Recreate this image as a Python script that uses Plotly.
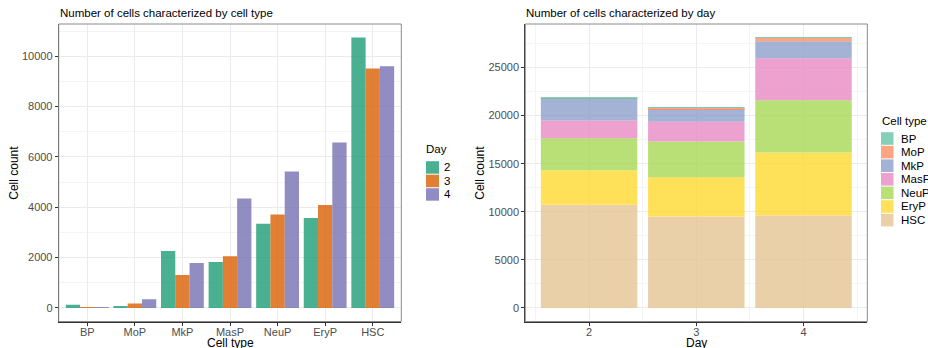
import plotly.graph_objects as go

# ---------------- data ----------------
cell_types = ["BP", "MoP", "MkP", "MasP", "NeuP", "EryP", "HSC"]
days = [2, 3, 4]
day2_counts = [130, 70, 2262, 1825, 3346, 3571, 10741]
day3_counts = [20, 180, 1310, 2050, 3717, 4087, 9511]
day4_counts = [30, 350, 1786, 4352, 5423, 6574, 9603]
day_colors = ["#1B9E77", "#D95F02", "#7570B3"]            # Dark2
type_colors = ["#66C2A5", "#FC8D62", "#8DA0CB", "#E78AC3",
               "#A6D854", "#FFD92F", "#E5C494"]           # Set2
left_title = "Number of cells characterized by cell type"
right_title = "Number of cells characterized by day"

W, H = 928, 348
FONT = "Liberation Sans, Arial, sans-serif"
ALPHA = 0.8


def px(x):
    return x / W


def py(y):
    return 1 - y / H


# panel geometry (pixels)
L0, L1 = 58.7, 401.3
R0, R1 = 525.3, 867.3
T, B = 24.0, 321.5

fig = go.Figure()

counts_by_day = [day2_counts, day3_counts, day4_counts]

# left panel: dodged bars
for i, (d, vals) in enumerate(zip(days, counts_by_day)):
    fig.add_trace(go.Bar(
        x=cell_types, y=vals, name=str(d), xaxis="x", yaxis="y",
        width=0.3, offset=-0.45 + 0.3 * i,
        marker=dict(color=day_colors[i], opacity=ALPHA, line=dict(width=0)),
        showlegend=False,
    ))

# right panel: stacked bars (HSC at bottom)
base = [0, 0, 0]
for j in reversed(range(len(cell_types))):
    vals = [counts_by_day[k][j] for k in range(len(days))]
    fig.add_trace(go.Bar(
        x=days, y=vals, base=list(base), name=cell_types[j],
        xaxis="x2", yaxis="y2", width=0.9,
        marker=dict(color=type_colors[j], opacity=ALPHA, line=dict(width=0)),
        showlegend=False,
    ))
    base = [b + v for b, v in zip(base, vals)]

tickfont = dict(family=FONT, size=11, color="#4D4D4D")
common_axis = dict(
    showgrid=True, gridcolor="#EBEBEB", gridwidth=1, zeroline=False,
    ticks="outside", ticklen=3, tickwidth=1, tickcolor="#333333",
    tickfont=tickfont, showline=True, linecolor="#333333", linewidth=1,
    mirror=False, fixedrange=True,
)

ydom = [py(B), py(T)]
left_max = max(max(v) for v in counts_by_day)
right_max = max(base)

fig.update_layout(
    width=W, height=H, margin=dict(l=0, r=0, t=0, b=0),
    paper_bgcolor="white", plot_bgcolor="white",
    barmode="overlay", showlegend=False,
    font=dict(family=FONT),
    xaxis=dict(common_axis, domain=[px(L0), px(L1)], type="category",
               categoryorder="array", categoryarray=cell_types,
               range=[-0.6, len(cell_types) - 0.4], anchor="y",
               ticklabelstandoff=-3),
    yaxis=dict(common_axis, domain=ydom, anchor="x",
               range=[-0.05 * left_max, 1.05 * left_max],
               tick0=0, dtick=2000, tickformat="d",
               minor=dict(showgrid=True, dtick=1000, tick0=0,
                          gridcolor="#F4F4F4", gridwidth=1, ticks="")),
    xaxis2=dict(common_axis, domain=[px(R0), px(R1)], anchor="y2",
                range=[1.55 - 0.05 * 2.9, 4.45 + 0.05 * 2.9],
                tickvals=days, ticktext=[str(d) for d in days],
                ticklabelstandoff=-3,
                minor=dict(showgrid=True, tickvals=[1.5, 2.5, 3.5, 4.5],
                           gridcolor="#F4F4F4", gridwidth=1, ticks="")),
    yaxis2=dict(common_axis, domain=ydom, anchor="x2",
                range=[-0.05 * right_max, 1.05 * right_max],
                tick0=0, dtick=5000, tickformat="d",
                minor=dict(showgrid=True, dtick=2500, tick0=0,
                           gridcolor="#F4F4F4", gridwidth=1, ticks="")),
)

shapes = []
# panel borders (lighter top/right)
for xr, yr in (("x domain", "y domain"), ("x2 domain", "y2 domain")):
    shapes.append(dict(type="rect", xref=xr, yref=yr, x0=0, x1=1, y0=0, y1=1,
                       line=dict(color="#8A8A8A", width=1), layer="above"))

annotations = []


def text(x, y, s, size=11.5, color="black", xanchor="left", angle=0):
    annotations.append(dict(
        x=px(x), y=py(y), xref="paper", yref="paper", text=s, showarrow=False,
        xanchor=xanchor, yanchor="middle", textangle=angle,
        font=dict(family=FONT, size=size, color=color)))


# titles
text(L0 - 1, 13, left_title, size=11.5)
text(R0 - 1, 13, right_title, size=11.5)
# axis titles
text((L0 + L1) / 2, 342.5, "Cell type", size=12, xanchor="center")
text((R0 + R1) / 2, 342.5, "Day", size=12, xanchor="center")
text(14, (T + B) / 2, "Cell count", size=12, xanchor="center", angle=-90)
text(480, (T + B) / 2, "Cell count", size=12, xanchor="center", angle=-90)

# left legend (Day)
text(424, 149, "Day", size=11.5)
key_h = 13.5
for i, d in enumerate(days):
    y0 = 160.7 + i * key_h
    shapes.append(dict(type="rect", xref="paper", yref="paper",
                       x0=px(426), x1=px(439), y0=py(y0 + 0.5), y1=py(y0 + key_h - 0.5),
                       fillcolor=day_colors[i], opacity=ALPHA, line=dict(width=0)))
    text(442, y0 + key_h / 2, str(d), size=11.5)

# right legend (Cell type)
text(879.5, 121, "Cell type", size=11.5)
key_h2 = 13.6
for j, ct in enumerate(cell_types):
    y0 = 131.7 + j * key_h2
    shapes.append(dict(type="rect", xref="paper", yref="paper",
                       x0=px(881), x1=px(893.5), y0=py(y0 + 0.5), y1=py(y0 + key_h2 - 0.5),
                       fillcolor=type_colors[j], opacity=ALPHA, line=dict(width=0)))
    text(898.5, y0 + key_h2 / 2, ct, size=11.5)

fig.update_layout(shapes=shapes, annotations=annotations)
fig.write_html("out.html")
